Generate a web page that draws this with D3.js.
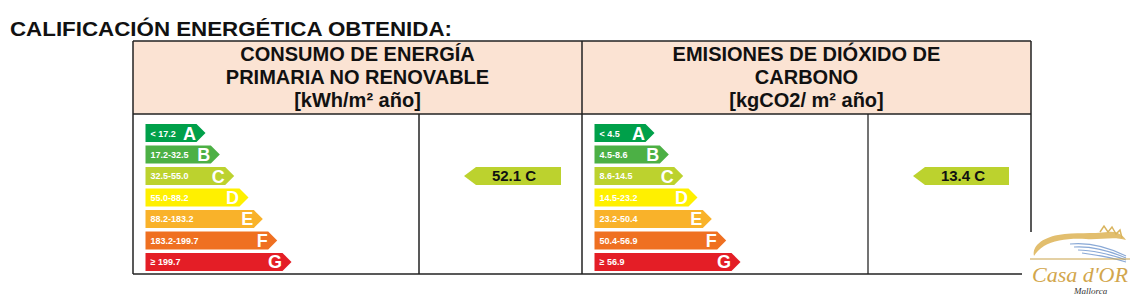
<!DOCTYPE html>
<html>
<head>
<meta charset="utf-8">
<script src="https://cdn.jsdelivr.net/npm/d3@7/dist/d3.min.js"></script>
<style>
  html, body { margin: 0; padding: 0; background: #fff; }
  svg { display: block; font-family: "Liberation Sans", Arial, sans-serif; }
</style>
</head>
<body>
<div id="chart"></div>
<script>
// data
const classes = ["A", "B", "C", "D", "E", "F", "G"];
const classColors = ["#00a04a", "#4cb045", "#bcd22e", "#fff000", "#f9b22a", "#ef7021", "#e41e26"];
const energyRanges = ["< 17.2", "17.2-32.5", "32.5-55.0", "55.0-88.2", "88.2-183.2", "183.2-199.7", "\u2265 199.7"];
const co2Ranges = ["< 4.5", "4.5-8.6", "8.6-14.5", "14.5-23.2", "23.2-50.4", "50.4-56.9", "\u2265 56.9"];
const headerEnergy = ["CONSUMO DE ENERGÍA", "PRIMARIA NO RENOVABLE", "[kWh/m² año]"];
const headerCo2 = ["EMISIONES DE DIÓXIDO DE", "CARBONO", "[kgCO2/ m² año]"];
const results = [{value: "52.1", cls: "C"}, {value: "13.4", cls: "C"}];

const width = 1136, height = 303;
const left = 133, mid = 582, right = 1031;
const headTop = 41, headBottom = 114, bottom = 274;

const svg = d3.select("#chart").append("svg")
    .attr("width", width)
    .attr("height", height);

// title
svg.append("text")
    .attr("x", 10).attr("y", 36)
    .attr("font-size", 21).attr("font-weight", "bold")
    .attr("textLength", 442).attr("lengthAdjust", "spacingAndGlyphs")
    .attr("fill", "#111")
    .text("CALIFICACIÓN ENERGÉTICA OBTENIDA:");

// header background
svg.append("rect")
    .attr("x", left).attr("y", headTop)
    .attr("width", right - left).attr("height", headBottom - headTop)
    .attr("fill", "#fbe3d3");

const panels = [
    {x0: left, x1: mid, head: headerEnergy, ranges: energyRanges, res: results[0]},
    {x0: mid, x1: right, head: headerCo2, ranges: co2Ranges, res: results[1]}
];

const y = d3.scaleBand().domain(classes).range([124, 271]).paddingInner(0.16).paddingOuter(0);
const len = d3.scaleLinear().domain([0, classes.length - 1]).range([60, 146]);
const tip = 9;

panels.forEach((p, pi) => {
    const cx = (p.x0 + p.x1) / 2;
    svg.append("g").selectAll("text").data(p.head).join("text")
        .attr("x", cx)
        .attr("y", (d, i) => 61 + i * 23)
        .attr("text-anchor", "middle")
        .attr("font-size", 20).attr("font-weight", "bold")
        .attr("fill", "#111")
        .text(d => d);

    const bx = p.x0 + 12.5;
    const bars = svg.append("g").selectAll("g").data(classes).join("g")
        .attr("transform", d => `translate(${bx},${y(d)})`);
    const h = y.bandwidth();
    bars.append("path")
        .attr("d", (d, i) => {
            const l = len(i);
            return `M0,0H${l - tip}L${l},${h / 2}L${l - tip},${h}H0Z`;
        })
        .attr("fill", (d, i) => classColors[i]);
    bars.append("text")
        .attr("x", 5).attr("y", h / 2 + 3.5)
        .attr("font-size", 9).attr("font-weight", "bold")
        .attr("fill", "#fff")
        .text((d, i) => p.ranges[i]);
    bars.append("text")
        .attr("x", (d, i) => len(i) - tip - 0.5)
        .attr("y", h / 2 + 6.5)
        .attr("text-anchor", "end")
        .attr("font-size", 18).attr("font-weight", "bold")
        .attr("fill", "#fff")
        .text(d => d);

    // result indicator
    const ix = p.x0 + 286;
    const ri = classes.indexOf(p.res.cls);
    const ry = y(p.res.cls);
    const g = svg.append("g").attr("transform", `translate(${ix + 45},${ry})`);
    g.append("path")
        .attr("d", `M0,${h / 2}L12,0H${97 - pi}V${h}H12Z`)
        .attr("fill", classColors[ri]);
    g.append("text")
        .attr("x", 50).attr("y", h / 2 + 5)
        .attr("text-anchor", "middle")
        .attr("font-size", 15).attr("font-weight", "bold")
        .attr("fill", "#111")
        .text(`${p.res.value} ${p.res.cls}`);

    // inner divider
    svg.append("line")
        .attr("x1", ix).attr("x2", ix)
        .attr("y1", headBottom).attr("y2", bottom)
        .attr("stroke", pi ? "#444" : "#222").attr("stroke-width", 1.5);
});

// grid lines
const lines = [
    [left, headTop, right, headTop],
    [left, headBottom, right, headBottom],
    [left, headTop, left, bottom],
    [mid, headTop, mid, bottom],
    [right, headTop, right, 232],
    [left, bottom, 1022, bottom]
];
svg.append("g").selectAll("line").data(lines).join("line")
    .attr("x1", d => d[0]).attr("y1", d => d[1])
    .attr("x2", d => d[2]).attr("y2", d => d[3])
    .attr("stroke", "#222").attr("stroke-width", 1.5);

// logo
const logo = svg.append("g").attr("transform", "translate(1030,226)");
logo.append("path")
    .attr("d", "M4,30 C2,20 12,12 28,9 C46,6 62,8 78,6 C86,5 92,8 96,14 C84,10 70,14 56,13 C40,12 24,14 14,20 C9,23 6,27 4,30Z")
    .attr("fill", "#e2be6e");
[0, 1, 2, 3].forEach(i => {
    logo.append("path")
        .attr("d", `M${40 + i * 4},${18 + i * 3} C60,${16 + i * 4} 80,${22 + i * 3} 96,${30 + i * 2}`)
        .attr("fill", "none").attr("stroke", "#8aa9d6").attr("stroke-width", 1.2);
});
logo.append("path")
    .attr("d", "M70,6 L74,0 L78,6 L82,1 L86,8 L90,4 L92,12")
    .attr("fill", "none").attr("stroke", "#d9b45e").attr("stroke-width", 1.5);
logo.append("line")
    .attr("x1", 0).attr("x2", 100).attr("y1", 33).attr("y2", 33)
    .attr("stroke", "#c9a24a").attr("stroke-width", 1);
logo.append("text")
    .attr("x", 2).attr("y", 56)
    .attr("font-family", "'Liberation Serif', serif")
    .attr("font-style", "italic")
    .attr("font-size", 21)
    .attr("textLength", 96).attr("lengthAdjust", "spacingAndGlyphs")
    .attr("fill", "#d2a64c")
    .text("Casa d'OR");
logo.append("text")
    .attr("x", 44).attr("y", 68)
    .attr("font-family", "'Liberation Serif', serif")
    .attr("font-style", "italic")
    .attr("font-size", 9)
    .attr("fill", "#333")
    .text("Mallorca");
</script>
</body>
</html>
